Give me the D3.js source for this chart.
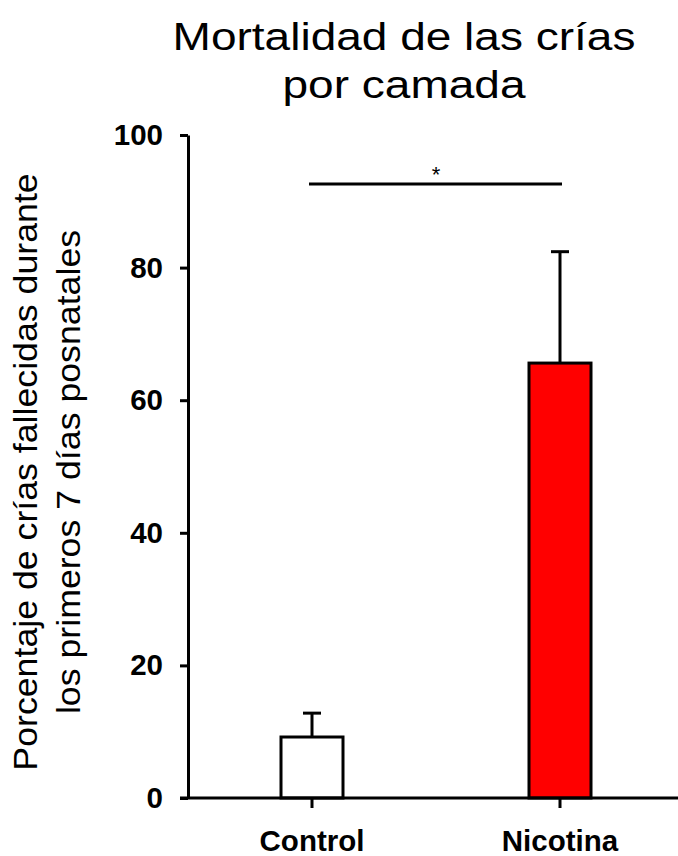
<!DOCTYPE html>
<html>
<head>
<meta charset="utf-8">
<script src="https://cdn.jsdelivr.net/npm/d3@7"></script>
<style>
  body { margin: 0; background: #fff; }
  svg { display: block; font-family: "Liberation Sans", Arial, sans-serif; }
</style>
</head>
<body>
<svg id="vis-svg"></svg>
<script>
// chart data
var groups = ["Control", "Nicotina"];
var means = [9.2, 65.6];
var sems = [3.6, 16.8];
var barColors = ["#ffffff", "#ff0000"];
var yTicks = [0, 20, 40, 60, 80, 100];
var sigLevel = 92.6;
var sigLabel = "*";
var titleLines = ["Mortalidad de las crías", "por camada"];
var yLabelLines = ["Porcentaje de crías fallecidas durante", "los primeros 7 días posnatales"];

var width = 678;
var height = 856;

var svg = d3.select('#vis-svg')
  .attr('width', width)
  .attr('height', height);

var yScale = d3.scaleLinear()
  .domain([0, 100])
  .range([798, 135]);

var xScale = d3.scaleBand()
  .domain(groups)
  .range([188, 684])
  .padding(0);

var barW = xScale.bandwidth() * 0.25;

var data = groups.map(function(g, i) {
  return {group: g, mean: means[i], sem: sems[i], color: barColors[i]};
});

// title (the original text is a bit wider than the font, so stretch it)
svg.append('g')
  .attr('transform', 'translate(404,50) scale(1.18,1)')
  .append('text')
  .attr('text-anchor', 'middle')
  .style('font-size', '39px')
  .selectAll('tspan')
  .data(titleLines)
  .enter()
  .append('tspan')
  .attr('x', 0)
  .attr('dy', function(d, i) { return i === 0 ? 0 : 48; })
  .text(function(d) { return d; });

// y axis label
svg.append('g')
  .attr('transform', 'translate(37,472) scale(1,1.05) rotate(-90)')
  .append('text')
  .attr('text-anchor', 'middle')
  .style('font-size', '34px')
  .selectAll('tspan')
  .data(yLabelLines)
  .enter()
  .append('tspan')
  .attr('x', 0)
  .attr('dy', function(d, i) { return i === 0 ? 0 : 43; })
  .text(function(d) { return d; });

// bars
svg.selectAll('rect.bar')
  .data(data)
  .enter()
  .append('rect')
  .attr('class', 'bar')
  .attr('x', function(d) { return xScale(d.group) + xScale.bandwidth() / 2 - barW / 2; })
  .attr('y', function(d) { return yScale(d.mean); })
  .attr('width', barW)
  .attr('height', function(d) { return yScale(0) - yScale(d.mean); })
  .attr('fill', function(d) { return d.color; })
  .attr('stroke', '#000')
  .attr('stroke-width', 3);

// error bars (upper only)
var err = svg.selectAll('g.err')
  .data(data)
  .enter()
  .append('g')
  .attr('class', 'err')
  .attr('stroke', '#000')
  .attr('stroke-width', 3);

err.append('line')
  .attr('x1', function(d) { return xScale(d.group) + xScale.bandwidth() / 2; })
  .attr('x2', function(d) { return xScale(d.group) + xScale.bandwidth() / 2; })
  .attr('y1', function(d) { return yScale(d.mean); })
  .attr('y2', function(d) { return yScale(d.mean + d.sem); });

err.append('line')
  .attr('x1', function(d) { return xScale(d.group) + xScale.bandwidth() / 2 - 9; })
  .attr('x2', function(d) { return xScale(d.group) + xScale.bandwidth() / 2 + 9; })
  .attr('y1', function(d) { return yScale(d.mean + d.sem); })
  .attr('y2', function(d) { return yScale(d.mean + d.sem); });

// y axis
var yAxis = svg.append('g')
  .attr('transform', 'translate(188,0)')
  .call(d3.axisLeft(yScale).tickValues(yTicks).tickSize(8).tickSizeOuter(0).tickPadding(17));

yAxis.select('.domain').attr('stroke-width', 3);
yAxis.selectAll('.tick line').attr('stroke-width', 3);
yAxis.selectAll('text')
  .attr('fill', '#000')
  .style('font-family', '"Liberation Sans", Arial, sans-serif')
  .style('font-size', '29.5px')
  .style('font-weight', 'bold');

// x axis
var xAxis = svg.append('g')
  .attr('transform', `translate(0,${yScale(0)})`)
  .call(d3.axisBottom(xScale).tickSize(10).tickSizeOuter(0).tickPadding(22));

xAxis.select('.domain').remove();
xAxis.selectAll('.tick line').attr('stroke-width', 3);
xAxis.selectAll('text')
  .attr('fill', '#000')
  .style('font-family', '"Liberation Sans", Arial, sans-serif')
  .style('font-size', '29.5px')
  .style('font-weight', 'bold');

svg.append('line')
  .attr('x1', 180)
  .attr('x2', width)
  .attr('y1', yScale(0))
  .attr('y2', yScale(0))
  .attr('stroke', '#000')
  .attr('stroke-width', 3);

// significance bracket
var x0 = xScale(groups[0]) + xScale.bandwidth() / 2;
var x1 = xScale(groups[1]) + xScale.bandwidth() / 2;
svg.append('line')
  .attr('x1', x0 - 3)
  .attr('x2', x1 + 2)
  .attr('y1', yScale(sigLevel))
  .attr('y2', yScale(sigLevel))
  .attr('stroke', '#000')
  .attr('stroke-width', 3);

svg.append('text')
  .attr('x', (x0 + x1) / 2)
  .attr('y', yScale(sigLevel) - 2)
  .attr('text-anchor', 'middle')
  .style('font-size', '22px')
  .text(sigLabel);
</script>
</body>
</html>
